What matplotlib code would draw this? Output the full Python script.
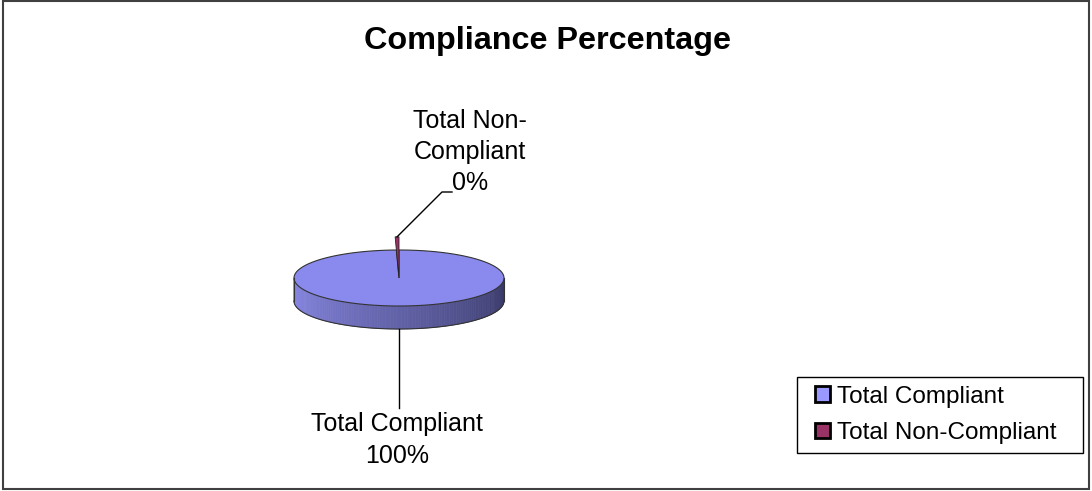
import numpy as np
import matplotlib.pyplot as plt
from matplotlib.patches import Polygon, Rectangle, Patch

plt.rcParams['font.family'] = ['Liberation Sans', 'DejaVu Sans']

categories = ['Total Compliant', 'Total Non-Compliant']
values = [99.6, 0.4]
colors = ['#9999ff', '#993366']

fig = plt.figure(figsize=(10.92, 4.91), dpi=100)
ax = fig.add_axes([0, 0, 1, 1])
ax.set_xlim(0, 1092)
ax.set_ylim(491, 0)
ax.axis('off')

# outer chart frame
ax.add_patch(Rectangle((3, 1), 1086, 488, fill=False, ec='#404040', lw=1.5))

ax.text(547, 41, 'Compliance Percentage', ha='center', va='center',
        fontsize=23.3, fontweight='bold')

# pseudo 3d pie
cx, cy, a, b, depth = 399, 278, 105, 28, 23

def pt(theta, r=1.0):
    t = np.radians(theta)
    return cx + r * a * np.cos(t), cy - r * b * np.sin(t)

# side wall, shaded from left to right
c_left = np.array([140, 140, 235]) / 255
c_right = np.array([55, 55, 100]) / 255
steps = 120
for i in range(steps):
    t0 = 180 + 180 * i / steps
    t1 = 180 + 180 * (i + 1) / steps
    f = (i + 0.5) / steps
    col = c_left * (1 - f) + c_right * f
    x0, y0 = pt(t0)
    x1, y1 = pt(t1)
    ax.add_patch(Polygon([(x0, y0), (x1, y1), (x1, y1 + depth), (x0, y0 + depth)],
                         closed=True, fc=col, ec=col, lw=0.5))
ts = np.linspace(180, 360, 100)
bx = [pt(t)[0] for t in ts]
by = [pt(t)[1] + depth for t in ts]
ax.plot(bx, by, color='#333333', lw=0.8)
ax.plot([cx - a, cx - a], [cy, cy + depth], color='#333333', lw=0.8)
ax.plot([cx + a, cx + a], [cy, cy + depth], color='#333333', lw=0.8)

# top faces, Excel style: start at 12 o'clock, go clockwise
total = sum(values)
start = 90
mids = []
for i, v in enumerate(values):
    sweep = 360 * v / total
    end = start - sweep
    ts = np.linspace(start, end, max(int(abs(sweep)), 2) + 1)
    if i == 0:
        pts = [(cx, cy)] + [pt(t) for t in ts]
        ax.add_patch(Polygon(pts, closed=True, fc='#8a8aee', ec='#333333', lw=0.8))
    else:
        # tiny slice, pulled out so it shows above the top face
        pts = [(cx, cy)] + [pt(t, 1.47) for t in ts]
        ax.add_patch(Polygon(pts, closed=True, fc=colors[i], ec='#222222', lw=0.6))
    mids.append((start + end) / 2)
    start = end

# labels with leader lines
pct = [f'{v / total * 100:.0f}%' for v in values]
ax.plot([cx, cx], [cy + b + depth, 408], color='black', lw=1)
ax.text(397, 440, f'{categories[0]}\n{pct[0]}', ha='center', va='center',
        fontsize=18, linespacing=1.38)
tx, ty = pt(mids[1], 1.47)
ax.plot([tx, 442, 452], [ty, 192, 192], color='black', lw=1)
ax.text(470, 152, f'Total Non-\nCompliant\n{pct[1]}', ha='center', va='center',
        fontsize=18, linespacing=1.38)

# legend: frame drawn by hand, entries by matplotlib
ax.add_patch(Rectangle((797, 377), 286, 76, fill=False, ec='black', lw=1))
handles = [Patch(fc=c, ec='black', lw=2) for c in colors]
leg = fig.legend(handles, categories, loc='center left',
                 bbox_to_anchor=(815 / 1092, 1 - 415 / 491),
                 fontsize=17.5, frameon=False, handlelength=0.6,
                 handleheight=0.6, handletextpad=0.3, labelspacing=0.6,
                 borderpad=0, borderaxespad=0)

fig.savefig('out.png', dpi=100)
